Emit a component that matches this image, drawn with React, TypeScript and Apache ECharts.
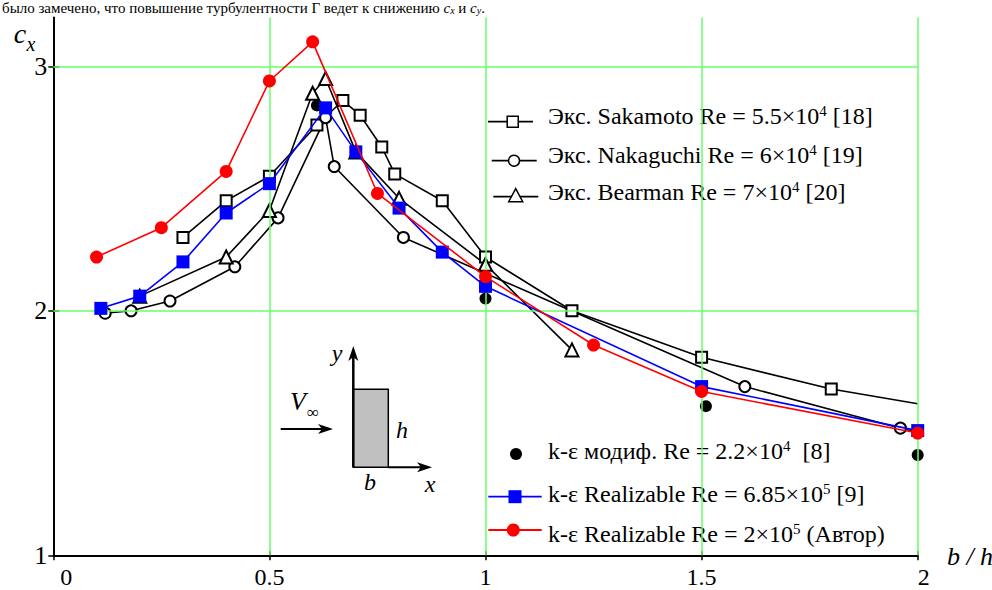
import React, { useEffect, useRef } from 'react';
import * as echarts from 'echarts';

const FONT = 'Liberation Serif, serif';
const GREEN = '#66ff66';

// axis ticks
const xTicks = [0, 0.5, 1, 1.5, 2];
const yTicks = [1, 2, 3];

// Эксперимент Sakamoto Re = 5.5×10^4 [18]
const sakX = [0.3, 0.4, 0.5, 0.61, 0.67, 0.71, 0.76, 0.79, 0.9, 1.0, 1.2, 1.5, 1.8, 2.0];
const sakY = [2.30, 2.45, 2.55, 2.76, 2.86, 2.80, 2.67, 2.56, 2.45, 2.22, 2.0, 1.81, 1.68, 1.62];
// Эксперимент Nakaguchi Re = 6×10^4 [19]
const nakX = [0.12, 0.18, 0.27, 0.42, 0.52, 0.63, 0.65, 0.81, 1.6, 1.96, 2.0];
const nakY = [1.99, 2.0, 2.04, 2.18, 2.38, 2.79, 2.59, 2.30, 1.69, 1.52, 1.505];
// Эксперимент Bearman Re = 7×10^4 [20]
const bearX = [0.2, 0.4, 0.5, 0.6, 0.63, 0.7, 0.8, 1.0, 1.2];
const bearY = [2.06, 2.22, 2.41, 2.89, 2.95, 2.65, 2.46, 2.19, 1.84];
// k-ε модиф. Re = 2.2×10^4 [8]
const modX = [0.61, 1.0, 1.51, 2.0];
const modY = [2.84, 2.05, 1.61, 1.41];
// k-ε Realizable Re = 6.85×10^5 [9]
const blueX = [0.11, 0.2, 0.3, 0.4, 0.5, 0.63, 0.7, 0.8, 0.9, 1.0, 1.5, 2.0];
const blueY = [2.01, 2.06, 2.20, 2.40, 2.52, 2.83, 2.65, 2.42, 2.24, 2.10, 1.69, 1.51];
// k-ε Realizable Re = 2×10^5 (Автор)
const redX = [0.1, 0.25, 0.4, 0.5, 0.6, 0.75, 1.0, 1.25, 1.5, 2.0];
const redY = [2.22, 2.34, 2.57, 2.94, 3.10, 2.48, 2.14, 1.86, 1.67, 1.50];

// points drawn only as line continuation (no marker)
const sakNoMarkerFrom = 13;
const nakNoMarkerFrom = 10;

const legendTop = [
  { pre: 'Экс. Sakamoto Re = 5.5×10', sup: '4', post: ' [18]' },
  { pre: 'Экс. Nakaguchi Re = 6×10', sup: '4', post: ' [19]' },
  { pre: 'Экс. Bearman Re = 7×10', sup: '4', post: ' [20]' },
];
const legendBottom = [
  { pre: 'k-ε модиф. Re = 2.2×10', sup: '4', post: '  [8]' },
  { pre: 'k-ε Realizable Re = 6.85×10', sup: '5', post: ' [9]' },
  { pre: 'k-ε Realizable Re = 2×10', sup: '5', post: ' (Автор)' },
];

const pairs = (xs: number[], ys: number[], noMarkerFrom = Infinity) =>
  xs.map((x, i) => (i >= noMarkerFrom ? { value: [x, ys[i]], symbol: 'none' } : [x, ys[i]]));

const LFS = 24;
const legendRich = {
  n: { fontFamily: FONT, fontSize: LFS, color: '#000', lineHeight: 26 },
  s: { fontFamily: FONT, fontSize: 15, color: '#000', verticalAlign: 'top', lineHeight: 26 },
};
const legText = (it: { pre: string; sup: string; post: string }) => `{n|${it.pre}}{s|${it.sup}}{n|${it.post}}`;

function legendRow(y: number, kind: string, label: string, lineColor: string | null, lx1: number, lx2: number, mx: number, ty: number) {
  const els: any[] = [];
  if (lineColor) {
    els.push({ type: 'line', shape: { x1: lx1, y1: y, x2: lx2, y2: y }, style: { stroke: lineColor, lineWidth: 1.8 } });
  }
  if (kind === 'emptyRect') {
    els.push({ type: 'rect', shape: { x: mx - 5.5, y: y - 5.5, width: 11, height: 11 }, style: { fill: '#fff', stroke: '#000', lineWidth: 1.5 } });
  } else if (kind === 'emptyCircle') {
    els.push({ type: 'circle', shape: { cx: mx, cy: y, r: 5.5 }, style: { fill: '#fff', stroke: '#000', lineWidth: 1.5 } });
  } else if (kind === 'emptyTriangle') {
    els.push({ type: 'polygon', shape: { points: [[mx, y - 8], [mx - 7, y + 5], [mx + 7, y + 5]] }, style: { fill: '#fff', stroke: '#000', lineWidth: 1.5 } });
  } else if (kind === 'dot') {
    els.push({ type: 'circle', shape: { cx: mx, cy: y, r: 6 }, style: { fill: '#000' } });
  } else if (kind === 'blueRect') {
    els.push({ type: 'rect', shape: { x: mx - 6.5, y: y - 6.5, width: 13, height: 13 }, style: { fill: '#0000ff' } });
  } else if (kind === 'redDot') {
    els.push({ type: 'circle', shape: { cx: mx, cy: y, r: 6.5 }, style: { fill: '#ff0000' } });
  }
  els.push({ type: 'text', x: 548, y: ty, style: { text: label, rich: legendRich, verticalAlign: 'middle', align: 'left' } });
  return els;
}

function arrowHead(tx: number, ty: number, dir: 'up' | 'right') {
  const pts = dir === 'up'
    ? [[tx, ty], [tx - 5, ty + 15], [tx, ty + 11], [tx + 5, ty + 15]]
    : [[tx, ty], [tx - 15, ty - 5], [tx - 11, ty], [tx - 15, ty + 5]];
  return { type: 'polygon', shape: { points: pts }, style: { fill: '#000' } };
}

export default function App() {
  const ref = useRef<HTMLDivElement>(null);
  useEffect(() => {
    if (!ref.current) return;
    const chart = echarts.init(ref.current, undefined, { renderer: 'svg' });
    const blackLine = { color: '#000', width: 1.6 };
    const openItem = { color: '#000', borderColor: '#000', borderWidth: 1.5 };
    const italic = (t: string, x: number, y: number, size: number) => ({
      type: 'text', x, y, style: { text: t, fontFamily: FONT, fontStyle: 'italic', fontSize: size, fill: '#000', align: 'center', verticalAlign: 'middle' },
    });

    const graphic: any[] = [
      // text line above the figure (kept fully visible)
      {
        type: 'text', x: 2, y: 8,
        style: {
          text: '{n|было замечено, что повышение турбулентности Г ведет к снижению }{i|c}{b|x}{n| и }{i|c}{b|y}{n|.}',
          verticalAlign: 'middle',
          rich: {
            n: { fontFamily: FONT, fontSize: 15, color: '#000' },
            i: { fontFamily: FONT, fontSize: 15, fontStyle: 'italic', color: '#000' },
            b: { fontFamily: FONT, fontSize: 10, fontStyle: 'italic', color: '#000', verticalAlign: 'bottom' },
          },
        },
      },
      // axis names
      italic('c', 20, 33, 28),
      italic('x', 31, 44, 20),
      { type: 'text', x: 970, y: 556, style: { text: 'b / h', fontFamily: FONT, fontStyle: 'italic', fontSize: 26, fill: '#000', align: 'center', verticalAlign: 'middle' } },
      // inset sketch
      { type: 'rect', shape: { x: 353.3, y: 389.3, width: 35, height: 78 }, style: { fill: '#c0c0c0', stroke: '#000', lineWidth: 1.5 } },
      { type: 'line', shape: { x1: 353.3, y1: 467.3, x2: 353.3, y2: 354 }, style: { stroke: '#000', lineWidth: 2.5 } },
      arrowHead(353.3, 346, 'up'),
      { type: 'line', shape: { x1: 388.3, y1: 467.3, x2: 424, y2: 467.3 }, style: { stroke: '#000', lineWidth: 2 } },
      arrowHead(432, 467.3, 'right'),
      { type: 'line', shape: { x1: 280.7, y1: 429, x2: 326, y2: 429 }, style: { stroke: '#000', lineWidth: 2 } },
      arrowHead(333, 429, 'right'),
      italic('y', 337, 353, 24),
      italic('V', 298, 401, 26),
      { type: 'text', x: 313, y: 412, style: { text: '∞', fontFamily: FONT, fontSize: 17, fill: '#000', align: 'center', verticalAlign: 'middle' } },
      italic('h', 402, 430, 24),
      italic('b', 370, 482, 24),
      italic('x', 430, 484, 24),
      // legend, upper group
      ...legendRow(121.7, 'emptyRect', legText(legendTop[0]), '#000', 488, 533, 512.7, 116),
      ...legendRow(160.7, 'emptyCircle', legText(legendTop[1]), '#000', 491.7, 536.7, 514, 155),
      ...legendRow(196.7, 'emptyTriangle', legText(legendTop[2]), '#000', 493.3, 538.3, 515.7, 192),
      // legend, lower group
      ...legendRow(454, 'dot', legText(legendBottom[0]), null, 0, 0, 516, 451),
      ...legendRow(496.7, 'blueRect', legText(legendBottom[1]), '#0000ff', 488.3, 541.7, 515, 494),
      ...legendRow(530, 'redDot', legText(legendBottom[2]), '#ff0000', 488.3, 541.7, 513.3, 534),
    ];

    const xLabelRich = {
      z: { fontFamily: FONT, fontSize: 24, color: '#000', padding: [0, 0, 0, 26] },
      t: { fontFamily: FONT, fontSize: 24, color: '#000', padding: [0, 0, 0, 12] },
    };

    const option: any = {
      animation: false,
      backgroundColor: '#ffffff',
      grid: { left: 53.3, right: 74.3, top: 17.4, bottom: 34.7, containLabel: false },
      xAxis: [
        {
          type: 'value', min: xTicks[0], max: xTicks[xTicks.length - 1], interval: 0.5,
          position: 'bottom',
          axisLine: { show: true, onZero: false, lineStyle: { color: '#000', width: 2 } },
          axisTick: { show: true, length: 5, lineStyle: { color: '#000', width: 1.5 } },
          axisLabel: {
            color: '#000', fontFamily: FONT, fontSize: 24, margin: 10,
            formatter: (v: number) => (v === 0 ? '{z|0}' : v === 2 ? '{t|2}' : String(v)),
            rich: xLabelRich,
          },
          splitLine: { show: false },
        },
        {
          type: 'value', min: xTicks[0], max: xTicks[xTicks.length - 1], interval: 0.5,
          position: 'bottom',
          axisLine: { show: false, onZero: false },
          axisTick: { show: true, inside: true, length: 4, lineStyle: { color: '#000', width: 1.5 } },
          axisLabel: { show: false },
          splitLine: { show: false },
        },
      ],
      yAxis: [
        {
          type: 'value', min: yTicks[0], max: 3.2, interval: 1,
          position: 'left',
          axisLine: { show: true, onZero: false, lineStyle: { color: '#000', width: 2 } },
          axisTick: { show: true, length: 5, customValues: yTicks, lineStyle: { color: '#000', width: 1.5 } },
          axisLabel: { color: '#000', fontFamily: FONT, fontSize: 26, margin: 6, customValues: yTicks },
          splitLine: { show: false },
        },
        {
          type: 'value', min: yTicks[0], max: 3.2, interval: 1,
          position: 'left',
          axisLine: { show: false, onZero: false },
          axisTick: { show: true, inside: true, length: 6, customValues: yTicks, lineStyle: { color: '#000', width: 1.5 } },
          axisLabel: { show: false },
          splitLine: { show: false },
        },
      ],
      graphic,
      series: [
        {
          name: 'grid', type: 'line', data: [], silent: true, z: 1, symbol: 'none',
          markLine: {
            silent: true, symbol: ['none', 'none'], label: { show: false },
            lineStyle: { color: GREEN, width: 1.5, type: 'solid' },
            data: [
              { xAxis: xTicks[1] }, { xAxis: xTicks[2] }, { xAxis: xTicks[3] }, { xAxis: xTicks[4] },
              { yAxis: yTicks[1] }, { yAxis: yTicks[2] },
            ],
          },
        },
        {
          name: 'Sakamoto', type: 'line', data: pairs(sakX, sakY, sakNoMarkerFrom), z: 3,
          symbol: 'emptyRect', symbolSize: 11, itemStyle: openItem, lineStyle: blackLine,
        },
        {
          name: 'Nakaguchi', type: 'line', data: pairs(nakX, nakY, nakNoMarkerFrom), z: 3,
          symbol: 'emptyCircle', symbolSize: 11, itemStyle: openItem, lineStyle: blackLine,
        },
        {
          name: 'Bearman', type: 'line', data: pairs(bearX, bearY), z: 3,
          symbol: 'emptyTriangle', symbolSize: 13, itemStyle: openItem, lineStyle: blackLine,
        },
        {
          name: 'mod', type: 'scatter', data: pairs(modX, modY), z: 4,
          symbol: 'circle', symbolSize: 12, itemStyle: { color: '#000', opacity: 1 },
        },
        {
          name: 'blue', type: 'line', data: pairs(blueX, blueY), z: 5,
          symbol: 'rect', symbolSize: 13, itemStyle: { color: '#0000ff' }, lineStyle: { color: '#0000ff', width: 1.6 },
        },
        {
          name: 'red', type: 'line', data: pairs(redX, redY), z: 6,
          symbol: 'circle', symbolSize: 13, itemStyle: { color: '#ff0000' }, lineStyle: { color: '#ff0000', width: 1.6 },
        },
      ],
    };
    chart.setOption(option);
    return () => chart.dispose();
  }, []);
  return <div ref={ref} style={{ position: 'fixed', left: 0, top: 0, width: 992, height: 590, background: '#fff' }} />;
}
